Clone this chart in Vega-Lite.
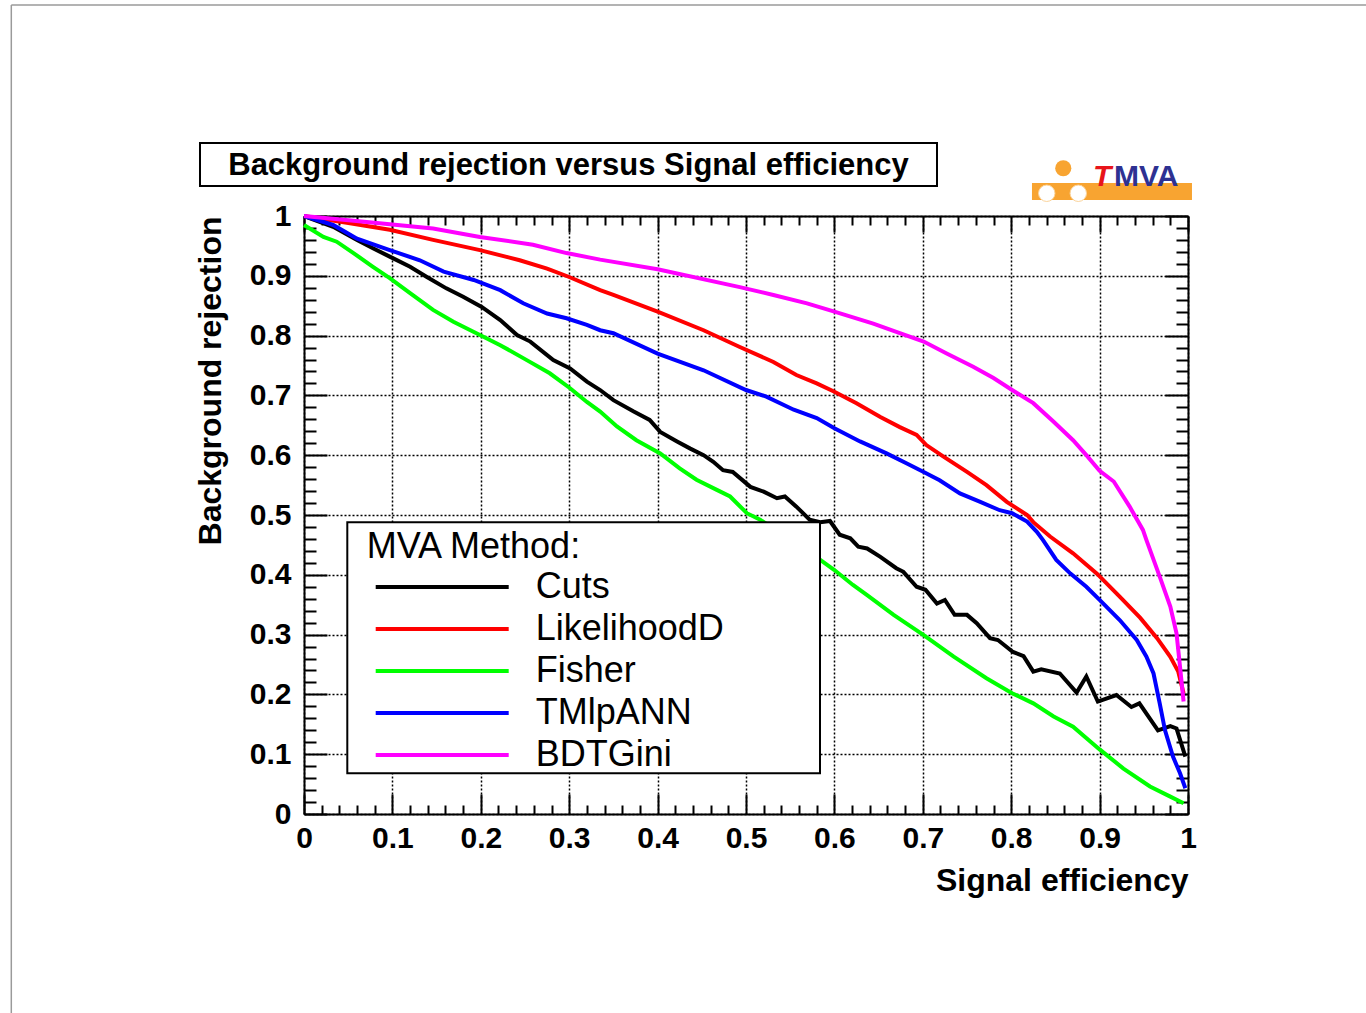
{
  "$schema": "https://vega.github.io/schema/vega-lite/v6.json",
  "width": 884,
  "height": 598,
  "autosize": {"type": "none"},
  "padding": {"left": 304, "top": 216, "right": 178, "bottom": 199},
  "background": "white",
  "config": {"view": {"stroke": null}, "font": "Liberation Sans"},
  "datasets": {
    "roc": [
      {"method": "Cuts", "eff": 0, "rej": 1.0},
      {"method": "Cuts", "eff": 0.033, "rej": 0.982},
      {"method": "Cuts", "eff": 0.06, "rej": 0.96},
      {"method": "Cuts", "eff": 0.078, "rej": 0.946},
      {"method": "Cuts", "eff": 0.097, "rej": 0.932},
      {"method": "Cuts", "eff": 0.12, "rej": 0.915},
      {"method": "Cuts", "eff": 0.139, "rej": 0.898},
      {"method": "Cuts", "eff": 0.161, "rej": 0.879},
      {"method": "Cuts", "eff": 0.18, "rej": 0.865},
      {"method": "Cuts", "eff": 0.201, "rej": 0.848},
      {"method": "Cuts", "eff": 0.222, "rej": 0.826},
      {"method": "Cuts", "eff": 0.241, "rej": 0.801},
      {"method": "Cuts", "eff": 0.256, "rej": 0.79},
      {"method": "Cuts", "eff": 0.282, "rej": 0.759},
      {"method": "Cuts", "eff": 0.301, "rej": 0.745},
      {"method": "Cuts", "eff": 0.32, "rej": 0.723},
      {"method": "Cuts", "eff": 0.335, "rej": 0.709},
      {"method": "Cuts", "eff": 0.35, "rej": 0.692},
      {"method": "Cuts", "eff": 0.373, "rej": 0.673},
      {"method": "Cuts", "eff": 0.391, "rej": 0.659},
      {"method": "Cuts", "eff": 0.403, "rej": 0.639},
      {"method": "Cuts", "eff": 0.422, "rej": 0.623},
      {"method": "Cuts", "eff": 0.437, "rej": 0.611},
      {"method": "Cuts", "eff": 0.452, "rej": 0.6},
      {"method": "Cuts", "eff": 0.463, "rej": 0.589},
      {"method": "Cuts", "eff": 0.474, "rej": 0.575},
      {"method": "Cuts", "eff": 0.485, "rej": 0.572},
      {"method": "Cuts", "eff": 0.505, "rej": 0.547},
      {"method": "Cuts", "eff": 0.52, "rej": 0.539},
      {"method": "Cuts", "eff": 0.535, "rej": 0.528},
      {"method": "Cuts", "eff": 0.544, "rej": 0.531},
      {"method": "Cuts", "eff": 0.557, "rej": 0.514},
      {"method": "Cuts", "eff": 0.572, "rej": 0.492},
      {"method": "Cuts", "eff": 0.584, "rej": 0.488},
      {"method": "Cuts", "eff": 0.595, "rej": 0.49},
      {"method": "Cuts", "eff": 0.606, "rej": 0.467},
      {"method": "Cuts", "eff": 0.618, "rej": 0.461},
      {"method": "Cuts", "eff": 0.627, "rej": 0.447},
      {"method": "Cuts", "eff": 0.637, "rej": 0.444},
      {"method": "Cuts", "eff": 0.652, "rej": 0.43},
      {"method": "Cuts", "eff": 0.67, "rej": 0.411},
      {"method": "Cuts", "eff": 0.678, "rej": 0.405},
      {"method": "Cuts", "eff": 0.693, "rej": 0.38},
      {"method": "Cuts", "eff": 0.703, "rej": 0.375},
      {"method": "Cuts", "eff": 0.716, "rej": 0.352},
      {"method": "Cuts", "eff": 0.725, "rej": 0.358},
      {"method": "Cuts", "eff": 0.736, "rej": 0.333},
      {"method": "Cuts", "eff": 0.75, "rej": 0.333},
      {"method": "Cuts", "eff": 0.761, "rej": 0.319},
      {"method": "Cuts", "eff": 0.776, "rej": 0.294},
      {"method": "Cuts", "eff": 0.785, "rej": 0.291},
      {"method": "Cuts", "eff": 0.802, "rej": 0.271},
      {"method": "Cuts", "eff": 0.814, "rej": 0.264},
      {"method": "Cuts", "eff": 0.825, "rej": 0.238},
      {"method": "Cuts", "eff": 0.834, "rej": 0.242},
      {"method": "Cuts", "eff": 0.855, "rej": 0.235},
      {"method": "Cuts", "eff": 0.874, "rej": 0.203},
      {"method": "Cuts", "eff": 0.885, "rej": 0.23},
      {"method": "Cuts", "eff": 0.898, "rej": 0.188},
      {"method": "Cuts", "eff": 0.919, "rej": 0.199},
      {"method": "Cuts", "eff": 0.936, "rej": 0.179},
      {"method": "Cuts", "eff": 0.945, "rej": 0.185},
      {"method": "Cuts", "eff": 0.966, "rej": 0.14},
      {"method": "Cuts", "eff": 0.98, "rej": 0.147},
      {"method": "Cuts", "eff": 0.987, "rej": 0.143},
      {"method": "Cuts", "eff": 0.997, "rej": 0.096},
      {"method": "LikelihoodD", "eff": 0, "rej": 1.0},
      {"method": "LikelihoodD", "eff": 0.052, "rej": 0.988},
      {"method": "LikelihoodD", "eff": 0.097, "rej": 0.977},
      {"method": "LikelihoodD", "eff": 0.146, "rej": 0.96},
      {"method": "LikelihoodD", "eff": 0.199, "rej": 0.943},
      {"method": "LikelihoodD", "eff": 0.244, "rej": 0.926},
      {"method": "LikelihoodD", "eff": 0.275, "rej": 0.912},
      {"method": "LikelihoodD", "eff": 0.3, "rej": 0.898},
      {"method": "LikelihoodD", "eff": 0.335, "rej": 0.876},
      {"method": "LikelihoodD", "eff": 0.35, "rej": 0.868},
      {"method": "LikelihoodD", "eff": 0.4, "rej": 0.84},
      {"method": "LikelihoodD", "eff": 0.452, "rej": 0.809},
      {"method": "LikelihoodD", "eff": 0.493, "rej": 0.781},
      {"method": "LikelihoodD", "eff": 0.531, "rej": 0.756},
      {"method": "LikelihoodD", "eff": 0.557, "rej": 0.734},
      {"method": "LikelihoodD", "eff": 0.58, "rej": 0.72},
      {"method": "LikelihoodD", "eff": 0.6, "rej": 0.706},
      {"method": "LikelihoodD", "eff": 0.625, "rej": 0.687},
      {"method": "LikelihoodD", "eff": 0.652, "rej": 0.664},
      {"method": "LikelihoodD", "eff": 0.674, "rej": 0.647},
      {"method": "LikelihoodD", "eff": 0.693, "rej": 0.634},
      {"method": "LikelihoodD", "eff": 0.704, "rej": 0.617},
      {"method": "LikelihoodD", "eff": 0.723, "rej": 0.598},
      {"method": "LikelihoodD", "eff": 0.75, "rej": 0.572},
      {"method": "LikelihoodD", "eff": 0.772, "rej": 0.55},
      {"method": "LikelihoodD", "eff": 0.795, "rej": 0.522},
      {"method": "LikelihoodD", "eff": 0.818, "rej": 0.5},
      {"method": "LikelihoodD", "eff": 0.825, "rej": 0.488},
      {"method": "LikelihoodD", "eff": 0.844, "rej": 0.464},
      {"method": "LikelihoodD", "eff": 0.87, "rej": 0.436},
      {"method": "LikelihoodD", "eff": 0.897, "rej": 0.402},
      {"method": "LikelihoodD", "eff": 0.923, "rej": 0.363},
      {"method": "LikelihoodD", "eff": 0.946, "rej": 0.328},
      {"method": "LikelihoodD", "eff": 0.965, "rej": 0.294},
      {"method": "LikelihoodD", "eff": 0.98, "rej": 0.263},
      {"method": "LikelihoodD", "eff": 0.989, "rej": 0.238},
      {"method": "LikelihoodD", "eff": 0.995, "rej": 0.202},
      {"method": "Fisher", "eff": 0, "rej": 0.985},
      {"method": "Fisher", "eff": 0.022, "rej": 0.965},
      {"method": "Fisher", "eff": 0.037, "rej": 0.957},
      {"method": "Fisher", "eff": 0.056, "rej": 0.938},
      {"method": "Fisher", "eff": 0.078, "rej": 0.915},
      {"method": "Fisher", "eff": 0.097, "rej": 0.896},
      {"method": "Fisher", "eff": 0.12, "rej": 0.871},
      {"method": "Fisher", "eff": 0.146, "rej": 0.843},
      {"method": "Fisher", "eff": 0.169, "rej": 0.823},
      {"method": "Fisher", "eff": 0.199, "rej": 0.801},
      {"method": "Fisher", "eff": 0.222, "rej": 0.784},
      {"method": "Fisher", "eff": 0.252, "rej": 0.759},
      {"method": "Fisher", "eff": 0.278, "rej": 0.737},
      {"method": "Fisher", "eff": 0.301, "rej": 0.712},
      {"method": "Fisher", "eff": 0.32, "rej": 0.689},
      {"method": "Fisher", "eff": 0.335, "rej": 0.673},
      {"method": "Fisher", "eff": 0.354, "rej": 0.648},
      {"method": "Fisher", "eff": 0.376, "rej": 0.625},
      {"method": "Fisher", "eff": 0.403, "rej": 0.603},
      {"method": "Fisher", "eff": 0.425, "rej": 0.578},
      {"method": "Fisher", "eff": 0.444, "rej": 0.559},
      {"method": "Fisher", "eff": 0.467, "rej": 0.542},
      {"method": "Fisher", "eff": 0.482, "rej": 0.531},
      {"method": "Fisher", "eff": 0.501, "rej": 0.503},
      {"method": "Fisher", "eff": 0.516, "rej": 0.492},
      {"method": "Fisher", "eff": 0.584, "rej": 0.425},
      {"method": "Fisher", "eff": 0.6, "rej": 0.408},
      {"method": "Fisher", "eff": 0.621, "rej": 0.383},
      {"method": "Fisher", "eff": 0.637, "rej": 0.366},
      {"method": "Fisher", "eff": 0.667, "rej": 0.333},
      {"method": "Fisher", "eff": 0.701, "rej": 0.299},
      {"method": "Fisher", "eff": 0.735, "rej": 0.263},
      {"method": "Fisher", "eff": 0.772, "rej": 0.227},
      {"method": "Fisher", "eff": 0.801, "rej": 0.202},
      {"method": "Fisher", "eff": 0.825, "rej": 0.185},
      {"method": "Fisher", "eff": 0.848, "rej": 0.163},
      {"method": "Fisher", "eff": 0.87, "rej": 0.146},
      {"method": "Fisher", "eff": 0.9, "rej": 0.108},
      {"method": "Fisher", "eff": 0.927, "rej": 0.076},
      {"method": "Fisher", "eff": 0.957, "rej": 0.046},
      {"method": "Fisher", "eff": 0.98, "rej": 0.029},
      {"method": "Fisher", "eff": 0.995, "rej": 0.018},
      {"method": "TMlpANN", "eff": 0, "rej": 1.0},
      {"method": "TMlpANN", "eff": 0.033, "rej": 0.985},
      {"method": "TMlpANN", "eff": 0.06, "rej": 0.962},
      {"method": "TMlpANN", "eff": 0.097, "rej": 0.943},
      {"method": "TMlpANN", "eff": 0.131, "rej": 0.926},
      {"method": "TMlpANN", "eff": 0.158, "rej": 0.907},
      {"method": "TMlpANN", "eff": 0.192, "rej": 0.893},
      {"method": "TMlpANN", "eff": 0.222, "rej": 0.876},
      {"method": "TMlpANN", "eff": 0.248, "rej": 0.854},
      {"method": "TMlpANN", "eff": 0.275, "rej": 0.837},
      {"method": "TMlpANN", "eff": 0.297, "rej": 0.829},
      {"method": "TMlpANN", "eff": 0.32, "rej": 0.818},
      {"method": "TMlpANN", "eff": 0.335, "rej": 0.809},
      {"method": "TMlpANN", "eff": 0.35, "rej": 0.804},
      {"method": "TMlpANN", "eff": 0.4, "rej": 0.77},
      {"method": "TMlpANN", "eff": 0.452, "rej": 0.742},
      {"method": "TMlpANN", "eff": 0.5, "rej": 0.709},
      {"method": "TMlpANN", "eff": 0.523, "rej": 0.698},
      {"method": "TMlpANN", "eff": 0.554, "rej": 0.676},
      {"method": "TMlpANN", "eff": 0.58, "rej": 0.662},
      {"method": "TMlpANN", "eff": 0.6, "rej": 0.645},
      {"method": "TMlpANN", "eff": 0.629, "rej": 0.623},
      {"method": "TMlpANN", "eff": 0.659, "rej": 0.603},
      {"method": "TMlpANN", "eff": 0.682, "rej": 0.586},
      {"method": "TMlpANN", "eff": 0.701, "rej": 0.572},
      {"method": "TMlpANN", "eff": 0.719, "rej": 0.558},
      {"method": "TMlpANN", "eff": 0.742, "rej": 0.536},
      {"method": "TMlpANN", "eff": 0.765, "rej": 0.522},
      {"method": "TMlpANN", "eff": 0.787, "rej": 0.508},
      {"method": "TMlpANN", "eff": 0.801, "rej": 0.503},
      {"method": "TMlpANN", "eff": 0.818, "rej": 0.489},
      {"method": "TMlpANN", "eff": 0.829, "rej": 0.472},
      {"method": "TMlpANN", "eff": 0.836, "rej": 0.458},
      {"method": "TMlpANN", "eff": 0.851, "rej": 0.425},
      {"method": "TMlpANN", "eff": 0.867, "rej": 0.402},
      {"method": "TMlpANN", "eff": 0.885, "rej": 0.38},
      {"method": "TMlpANN", "eff": 0.9, "rej": 0.358},
      {"method": "TMlpANN", "eff": 0.923, "rej": 0.324},
      {"method": "TMlpANN", "eff": 0.942, "rej": 0.291},
      {"method": "TMlpANN", "eff": 0.953, "rej": 0.263},
      {"method": "TMlpANN", "eff": 0.961, "rej": 0.235},
      {"method": "TMlpANN", "eff": 0.968, "rej": 0.185},
      {"method": "TMlpANN", "eff": 0.974, "rej": 0.14},
      {"method": "TMlpANN", "eff": 0.983, "rej": 0.096},
      {"method": "TMlpANN", "eff": 0.991, "rej": 0.068},
      {"method": "TMlpANN", "eff": 0.997, "rej": 0.043},
      {"method": "BDTGini", "eff": 0, "rej": 1.0},
      {"method": "BDTGini", "eff": 0.071, "rej": 0.99},
      {"method": "BDTGini", "eff": 0.146, "rej": 0.979},
      {"method": "BDTGini", "eff": 0.199, "rej": 0.965},
      {"method": "BDTGini", "eff": 0.259, "rej": 0.952},
      {"method": "BDTGini", "eff": 0.297, "rej": 0.938},
      {"method": "BDTGini", "eff": 0.335, "rej": 0.927},
      {"method": "BDTGini", "eff": 0.4, "rej": 0.911},
      {"method": "BDTGini", "eff": 0.493, "rej": 0.881},
      {"method": "BDTGini", "eff": 0.531, "rej": 0.868},
      {"method": "BDTGini", "eff": 0.569, "rej": 0.854},
      {"method": "BDTGini", "eff": 0.6, "rej": 0.84},
      {"method": "BDTGini", "eff": 0.644, "rej": 0.82},
      {"method": "BDTGini", "eff": 0.674, "rej": 0.804},
      {"method": "BDTGini", "eff": 0.701, "rej": 0.79},
      {"method": "BDTGini", "eff": 0.727, "rej": 0.77},
      {"method": "BDTGini", "eff": 0.757, "rej": 0.748},
      {"method": "BDTGini", "eff": 0.78, "rej": 0.729},
      {"method": "BDTGini", "eff": 0.801, "rej": 0.709},
      {"method": "BDTGini", "eff": 0.825, "rej": 0.687},
      {"method": "BDTGini", "eff": 0.848, "rej": 0.656},
      {"method": "BDTGini", "eff": 0.87, "rej": 0.625},
      {"method": "BDTGini", "eff": 0.885, "rej": 0.6},
      {"method": "BDTGini", "eff": 0.9, "rej": 0.574},
      {"method": "BDTGini", "eff": 0.916, "rej": 0.556},
      {"method": "BDTGini", "eff": 0.934, "rej": 0.514},
      {"method": "BDTGini", "eff": 0.949, "rej": 0.475},
      {"method": "BDTGini", "eff": 0.953, "rej": 0.458},
      {"method": "BDTGini", "eff": 0.968, "rej": 0.397},
      {"method": "BDTGini", "eff": 0.98, "rej": 0.347},
      {"method": "BDTGini", "eff": 0.987, "rej": 0.302},
      {"method": "BDTGini", "eff": 0.991, "rej": 0.246},
      {"method": "BDTGini", "eff": 0.995, "rej": 0.188}
    ]
  },
  "layer": [
    {
      "data": {"name": "roc"},
      "mark": {"type": "line", "strokeWidth": 4, "clip": false},
      "encoding": {
        "x": {
          "field": "eff", "type": "quantitative",
          "scale": {"domain": [0, 1], "nice": false, "zero": false},
          "axis": {
            "orient": "bottom",
            "values": [0,0.02,0.04,0.06,0.08,0.1,0.12,0.14,0.16,0.18,0.2,0.22,0.24,0.26,0.28,0.3,0.32,0.34,0.36,0.38,0.4,0.42,0.44,0.46,0.48,0.5,0.52,0.54,0.56,0.58,0.6,0.62,0.64,0.66,0.68,0.7,0.72,0.74,0.76,0.78,0.8,0.82,0.84,0.86,0.88,0.9,0.92,0.94,0.96,0.98,1],
            "labelExpr": "abs(datum.value*10 - round(datum.value*10)) < 0.01 ? toString(round(datum.value*10)/10) : ''",
            "tickSize": {"condition": {"test": "abs(datum.value*10 - round(datum.value*10)) < 0.01", "value": -20}, "value": -9},
            "gridOpacity": {"condition": {"test": "abs(datum.value*10 - round(datum.value*10)) < 0.01", "value": 1}, "value": 0},
            "grid": true, "gridColor": "black", "gridDash": [2, 2], "gridWidth": 1.5,
            "domainColor": "black", "domainWidth": 2,
            "tickColor": "black", "tickWidth": 2,
            "labelFont": "Liberation Sans", "labelFontSize": 30, "labelFontWeight": "bold", "labelColor": "black",
            "labelPadding": 29, "labelFlush": false, "labelOverlap": false,
            "title": "Signal efficiency", "titleAnchor": "end", "titleFont": "Liberation Sans",
            "titleFontSize": 32, "titleFontWeight": "bold", "titleColor": "black", "titlePadding": 1
          }
        },
        "y": {
          "field": "rej", "type": "quantitative",
          "scale": {"domain": [0, 1], "nice": false, "zero": false},
          "axis": {
            "orient": "left",
            "values": [0,0.02,0.04,0.06,0.08,0.1,0.12,0.14,0.16,0.18,0.2,0.22,0.24,0.26,0.28,0.3,0.32,0.34,0.36,0.38,0.4,0.42,0.44,0.46,0.48,0.5,0.52,0.54,0.56,0.58,0.6,0.62,0.64,0.66,0.68,0.7,0.72,0.74,0.76,0.78,0.8,0.82,0.84,0.86,0.88,0.9,0.92,0.94,0.96,0.98,1],
            "labelExpr": "abs(datum.value*10 - round(datum.value*10)) < 0.01 ? toString(round(datum.value*10)/10) : ''",
            "tickSize": {"condition": {"test": "abs(datum.value*10 - round(datum.value*10)) < 0.01", "value": -23}, "value": -12},
            "gridOpacity": {"condition": {"test": "abs(datum.value*10 - round(datum.value*10)) < 0.01", "value": 1}, "value": 0},
            "grid": true, "gridColor": "black", "gridDash": [2, 2], "gridWidth": 1.5,
            "domainColor": "black", "domainWidth": 2,
            "tickColor": "black", "tickWidth": 2,
            "labelFont": "Liberation Sans", "labelFontSize": 30, "labelFontWeight": "bold", "labelColor": "black",
            "labelPadding": 36, "labelFlush": false, "labelOverlap": false,
            "title": "Background rejection", "titleAnchor": "end", "titleFont": "Liberation Sans",
            "titleFontSize": 32, "titleFontWeight": "bold", "titleColor": "black", "titlePadding": 22
          }
        },
        "color": {
          "field": "method", "type": "nominal",
          "scale": {"domain": ["Cuts", "LikelihoodD", "Fisher", "TMlpANN", "BDTGini"], "range": ["#000000", "#ff0000", "#00ff00", "#0000ff", "#ff00ff"]},
          "legend": {
            "title": "MVA Method:",
            "orient": "none", "legendX": 62.7, "legendY": 314,
            "padding": 0, "fillColor": null, "strokeColor": null,
            "titleFont": "Liberation Sans", "titleFontSize": 36, "titleFontWeight": "normal", "titleColor": "black",
            "titlePadding": 0, "titleLimit": 600,
            "labelFont": "Liberation Sans", "labelFontSize": 36, "labelColor": "black", "labelLimit": 600,
            "labelOffset": 25, "labelBaseline": "middle",
            "symbolType": "stroke", "symbolSize": 17689, "symbolStrokeWidth": 4, "symbolOffset": 7,
            "clipHeight": 42, "rowPadding": 0
          }
        }
      }
    },
    {
      "data": {"values": [{}]},
      "mark": {"type": "rect", "fill": "white", "stroke": "black", "strokeWidth": 2, "clip": false},
      "encoding": {
        "x": {
          "datum": 0.04898, "type": "quantitative",
          "scale": {"domain": [0, 1], "nice": false, "zero": false},
          "axis": {
            "orient": "top",
            "values": [0,0.02,0.04,0.06,0.08,0.1,0.12,0.14,0.16,0.18,0.2,0.22,0.24,0.26,0.28,0.3,0.32,0.34,0.36,0.38,0.4,0.42,0.44,0.46,0.48,0.5,0.52,0.54,0.56,0.58,0.6,0.62,0.64,0.66,0.68,0.7,0.72,0.74,0.76,0.78,0.8,0.82,0.84,0.86,0.88,0.9,0.92,0.94,0.96,0.98,1],
            "labels": false, "grid": false, "title": null,
            "tickSize": {"condition": {"test": "abs(datum.value*10 - round(datum.value*10)) < 0.01", "value": -16}, "value": -9},
            "domainColor": "black", "domainWidth": 2, "tickColor": "black", "tickWidth": 2
          }
        },
        "x2": {"datum": 0.58371},
        "y": {
          "datum": 0.48779, "type": "quantitative",
          "scale": {"domain": [0, 1], "nice": false, "zero": false},
          "axis": {
            "orient": "right",
            "values": [0,0.02,0.04,0.06,0.08,0.1,0.12,0.14,0.16,0.18,0.2,0.22,0.24,0.26,0.28,0.3,0.32,0.34,0.36,0.38,0.4,0.42,0.44,0.46,0.48,0.5,0.52,0.54,0.56,0.58,0.6,0.62,0.64,0.66,0.68,0.7,0.72,0.74,0.76,0.78,0.8,0.82,0.84,0.86,0.88,0.9,0.92,0.94,0.96,0.98,1],
            "labels": false, "grid": false, "title": null,
            "tickSize": {"condition": {"test": "abs(datum.value*10 - round(datum.value*10)) < 0.01", "value": -23}, "value": -12},
            "domainColor": "black", "domainWidth": 2, "tickColor": "black", "tickWidth": 2
          }
        },
        "y2": {"datum": 0.06806}
      }
    },
    {
      "data": {"values": [{}]},
      "mark": {"type": "rect", "fill": null, "fillOpacity": 0, "stroke": "black", "strokeWidth": 2, "clip": false},
      "encoding": {
        "x": {"datum": -0.11765, "type": "quantitative", "scale": {"domain": [0, 1], "nice": false, "zero": false}, "axis": null},
        "x2": {"datum": 0.71606},
        "y": {"datum": 1.12207, "type": "quantitative", "scale": {"domain": [0, 1], "nice": false, "zero": false}, "axis": null},
        "y2": {"datum": 1.05017}
      }
    },
    {
      "data": {"values": [{"title": "Background rejection versus Signal efficiency"}]},
      "mark": {"type": "text", "font": "Liberation Sans", "fontSize": 31, "fontWeight": "bold", "color": "black", "align": "center", "baseline": "middle", "clip": false},
      "encoding": {
        "text": {"field": "title"},
        "x": {"datum": 0.2992, "type": "quantitative", "scale": {"domain": [0, 1], "nice": false, "zero": false}, "axis": null},
        "y": {"datum": 1.0836, "type": "quantitative", "scale": {"domain": [0, 1], "nice": false, "zero": false}, "axis": null}
      }
    },
    {
      "data": {"values": [{}]},
      "mark": {"type": "rect", "fill": "#f8a431", "clip": false},
      "encoding": {
        "x": {"datum": 0.8235, "type": "quantitative", "scale": {"domain": [0, 1], "nice": false, "zero": false}, "axis": null},
        "x2": {"datum": 1.0045},
        "y": {"datum": 1.0552, "type": "quantitative", "scale": {"domain": [0, 1], "nice": false, "zero": false}, "axis": null},
        "y2": {"datum": 1.0268}
      }
    },
    {
      "data": {"values": [{}]},
      "mark": {"type": "point", "shape": "circle", "filled": true, "fill": "#f8a431", "size": 260, "opacity": 1, "clip": false},
      "encoding": {
        "x": {"datum": 0.8589, "type": "quantitative", "scale": {"domain": [0, 1], "nice": false, "zero": false}, "axis": null},
        "y": {"datum": 1.0798, "type": "quantitative", "scale": {"domain": [0, 1], "nice": false, "zero": false}, "axis": null}
      }
    },
    {
      "data": {"values": [{}]},
      "mark": {"type": "point", "shape": "circle", "filled": true, "fill": "white", "stroke": "#fbd49c", "strokeWidth": 1, "size": 270, "opacity": 1, "clip": false},
      "encoding": {
        "x": {"datum": 0.8402, "type": "quantitative", "scale": {"domain": [0, 1], "nice": false, "zero": false}, "axis": null},
        "y": {"datum": 1.038, "type": "quantitative", "scale": {"domain": [0, 1], "nice": false, "zero": false}, "axis": null}
      }
    },
    {
      "data": {"values": [{}]},
      "mark": {"type": "point", "shape": "circle", "filled": true, "fill": "white", "stroke": "#fbd49c", "strokeWidth": 1, "size": 270, "opacity": 1, "clip": false},
      "encoding": {
        "x": {"datum": 0.8759, "type": "quantitative", "scale": {"domain": [0, 1], "nice": false, "zero": false}, "axis": null},
        "y": {"datum": 1.038, "type": "quantitative", "scale": {"domain": [0, 1], "nice": false, "zero": false}, "axis": null}
      }
    },
    {
      "data": {"values": [{}]},
      "mark": {"type": "text", "text": "T", "font": "Liberation Sans", "fontSize": 30, "fontWeight": "bold", "fontStyle": "italic", "color": "#e8141b", "align": "left", "baseline": "alphabetic", "clip": false},
      "encoding": {
        "x": {"datum": 0.8925, "type": "quantitative", "scale": {"domain": [0, 1], "nice": false, "zero": false}, "axis": null},
        "y": {"datum": 1.0502, "type": "quantitative", "scale": {"domain": [0, 1], "nice": false, "zero": false}, "axis": null}
      }
    },
    {
      "data": {"values": [{}]},
      "mark": {"type": "text", "text": "MVA", "font": "Liberation Sans", "fontSize": 30, "fontWeight": "bold", "color": "#2e3192", "align": "left", "baseline": "alphabetic", "clip": false},
      "encoding": {
        "x": {"datum": 0.9163, "type": "quantitative", "scale": {"domain": [0, 1], "nice": false, "zero": false}, "axis": null},
        "y": {"datum": 1.0502, "type": "quantitative", "scale": {"domain": [0, 1], "nice": false, "zero": false}, "axis": null}
      }
    },
    {
      "data": {"values": [{}]},
      "mark": {"type": "rule", "color": "#9a9a9a", "strokeWidth": 1.5, "clip": false},
      "encoding": {
        "x": {"datum": -0.3311, "type": "quantitative", "scale": {"domain": [0, 1], "nice": false, "zero": false}, "axis": null},
        "x2": {"datum": 1.21},
        "y": {"datum": 1.3528, "type": "quantitative", "scale": {"domain": [0, 1], "nice": false, "zero": false}, "axis": null}
      }
    },
    {
      "data": {"values": [{}]},
      "mark": {"type": "rule", "color": "#9a9a9a", "strokeWidth": 1.5, "clip": false},
      "encoding": {
        "x": {"datum": -0.3311, "type": "quantitative", "scale": {"domain": [0, 1], "nice": false, "zero": false}, "axis": null},
        "y": {"datum": 1.3528, "type": "quantitative", "scale": {"domain": [0, 1], "nice": false, "zero": false}, "axis": null},
        "y2": {"datum": -0.34}
      }
    }
  ],
  "resolve": {"axis": {"x": "independent", "y": "independent"}}
}
